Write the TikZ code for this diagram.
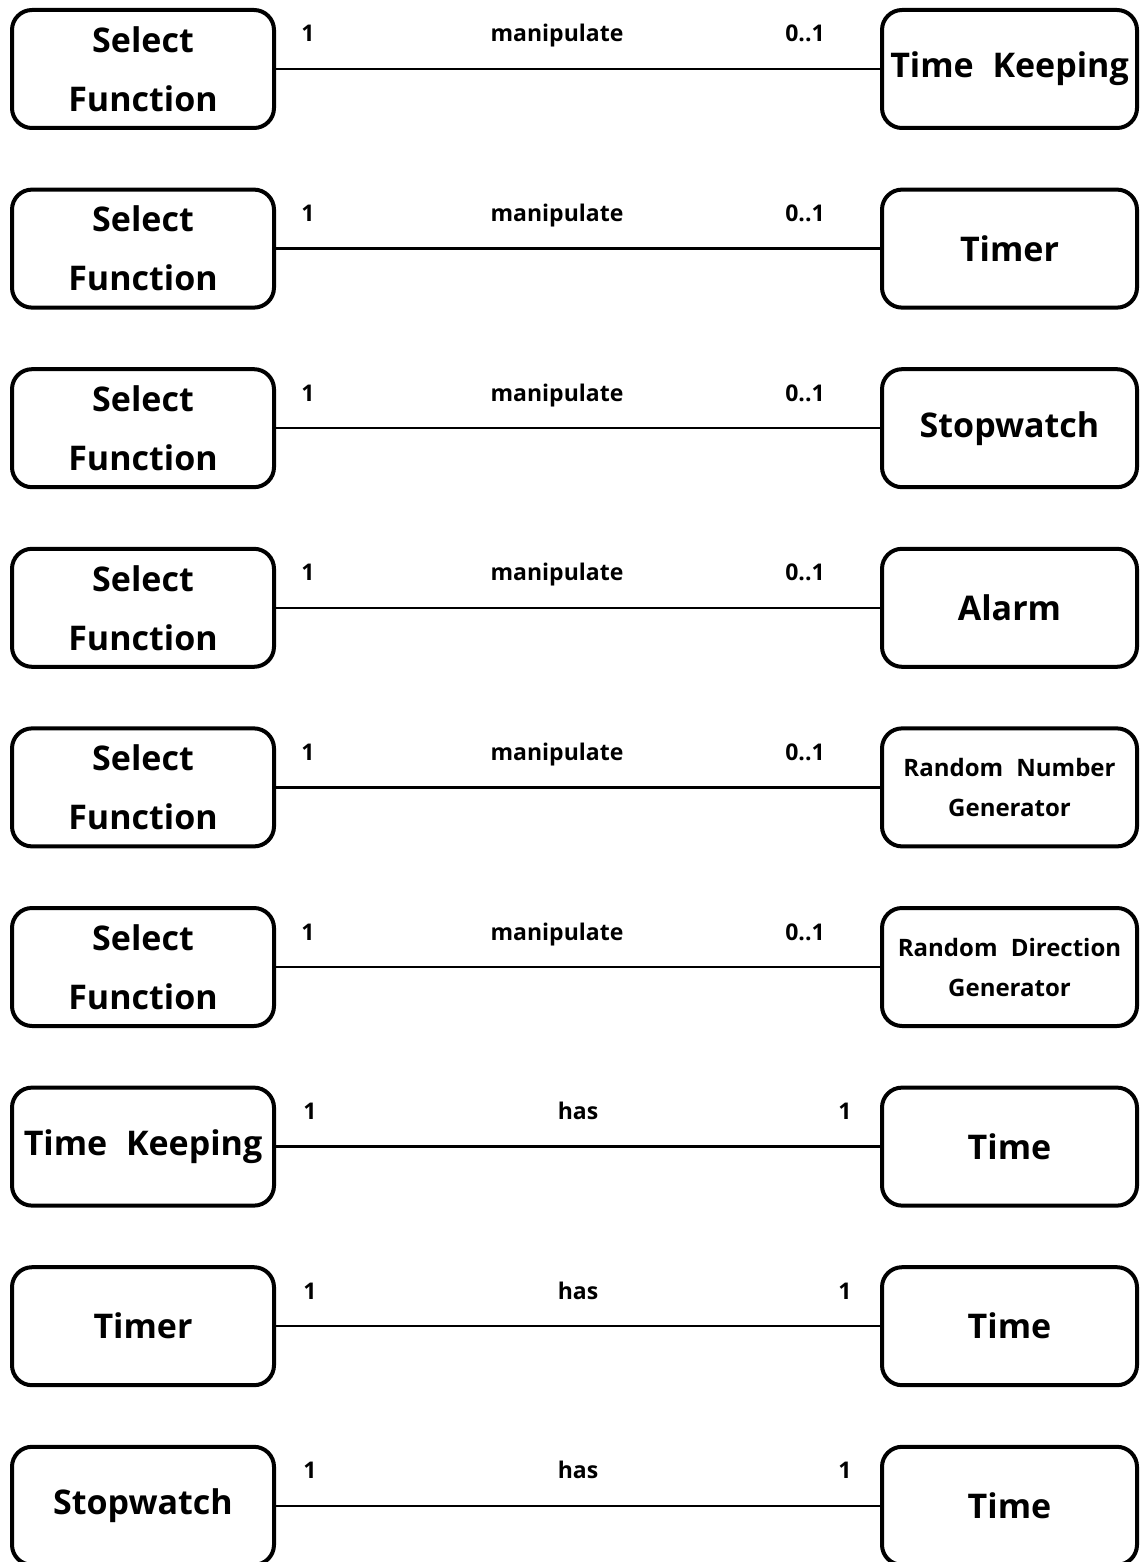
\documentclass[tikz,border=0pt]{standalone}
\usepackage{fontspec}
\setmainfont{Open Sans}
\begin{document}
\begin{tikzpicture}[x=1pt,y=-1pt,
  box/.style={draw, line width=4pt, rounded corners=20pt, minimum height=118pt, align=center, font=\fontsize{34}{59}\selectfont\bfseries, inner sep=0pt},
  lbox/.style={box, minimum width=262pt},
  rbox/.style={box, minimum width=255pt},
  sbox/.style={rbox, font=\fontsize{24}{40}\selectfont\bfseries},
  conn/.style={line width=2.5pt},
  lab/.style={anchor=base, font=\fontsize{23}{27}\selectfont\bfseries, inner sep=0pt}]
\useasboundingbox (0,0) rectangle (1141,1562);
\def\sp{\hspace{0.55em}}
% row centers
\foreach \i/\L/\R/\st/\rel/\m in {
  1/Select\\Function/Time\sp Keeping/rbox/manipulate/0..1,
  2/Select\\Function/Timer/rbox/manipulate/0..1,
  3/Select\\Function/Stopwatch/rbox/manipulate/0..1,
  4/Select\\Function/Alarm/rbox/manipulate/0..1,
  5/Select\\Function/Random\sp Number\\Generator/sbox/manipulate/0..1,
  6/Select\\Function/Random\sp Direction\\Generator/sbox/manipulate/0..1}{
  \pgfmathsetmacro{\yc}{69+179.6*(\i-1)}
  \node[lbox] (l\i) at (143,\yc) {\L};
  \node[\st] (r\i) at (1009.5,\yc) {\R};
  \draw[conn] (l\i.east) -- (r\i.west);
  \node[lab] (a\i) at (308,\yc-27) {1};
  \node[lab] (b\i) at (557,\yc-27) {\rel};
  \node[lab] (c\i) at (805,\yc-27) {\m};
}
\foreach \i/\L in {7/Time\sp Keeping, 8/Timer, 9/Stopwatch}{
  \pgfmathsetmacro{\yc}{69+179.6*(\i-1)}
  \node[lbox] (l\i) at (143,\yc) {\L};
  \node[rbox] (r\i) at (1009.5,\yc) {Time};
  \draw[conn] (l\i.east) -- (r\i.west);
  \node[lab] (a\i) at (310,\yc-27) {1};
  \node[lab] (b\i) at (578,\yc-27) {has};
  \node[lab] (c\i) at (845,\yc-27) {1};
}
\end{tikzpicture}
\end{document}
